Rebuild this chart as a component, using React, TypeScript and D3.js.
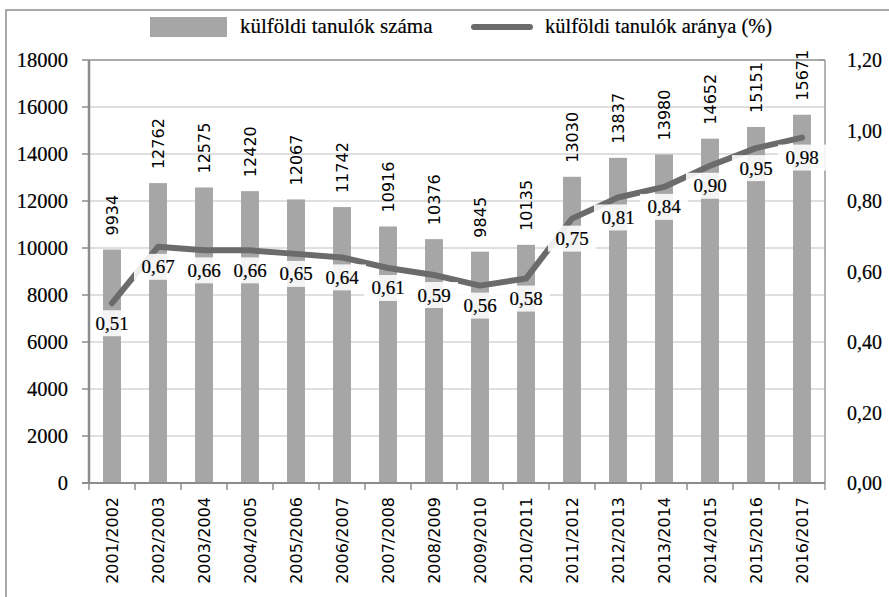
import React from 'react';
import * as d3 from 'd3';

const categories = ['2001/2002','2002/2003','2003/2004','2004/2005','2005/2006','2006/2007','2007/2008','2008/2009','2009/2010','2010/2011','2011/2012','2012/2013','2013/2014','2014/2015','2015/2016','2016/2017'];
const students = [9934,12762,12575,12420,12067,11742,10916,10376,9845,10135,13030,13837,13980,14652,15151,15671];
const ratio = [0.51,0.67,0.66,0.66,0.65,0.64,0.61,0.59,0.56,0.58,0.75,0.81,0.84,0.90,0.95,0.98];
const leftTicks = [0,2000,4000,6000,8000,10000,12000,14000,16000,18000];
const rightTicks = [0,0.2,0.4,0.6,0.8,1.0,1.2];
const legendLabels = ['külföldi tanulók száma','külföldi tanulók aránya (%)'];

const W = 889, H = 597;
const L = 89, R = 825, T = 60, B = 483;
const serif = '"Liberation Serif", "Times New Roman", serif';
const sans = '"DejaVu Sans", Verdana, sans-serif';

export default function App() {
  const x = d3.scaleBand<string>().domain(categories).range([L, R]).padding(0);
  const yL = d3.scaleLinear().domain([0, 18000]).range([B, T]);
  const yR = d3.scaleLinear().domain([0, 1.2]).range([B, T]);
  const bw = x.bandwidth() * 0.39;
  const cx = (c: string) => (x(c) as number) + x.bandwidth() / 2;
  const fmt = (v: number) => d3.format('.2f')(v).replace('.', ',');
  const linePath = d3.line<number>()
    .x((_, i) => cx(categories[i]))
    .y((d) => yR(d))(ratio) as string;

  return (
    <svg width={W} height={H} style={{ position: 'absolute', left: 0, top: 0, background: '#fff' }}>
      <rect x={0} y={0} width={W} height={H} fill="#fff" />
      {/* outer frame */}
      <path d={`M6,${H + 5} V10 H${W + 5}`} fill="none" stroke="#8c8c8c" strokeWidth={1.5} />

      {/* legend */}
      <rect x={150} y={17} width={77} height={20} fill="#a6a6a6" />
      <text x={240} y={33} fontFamily={serif} fontSize={21} fill="#000" stroke="#000" strokeWidth={0.2}>{legendLabels[0]}</text>
      <line x1={474} x2={530} y1={27} y2={27} stroke="#6b6b6b" strokeWidth={6} strokeLinecap="round" />
      <text x={545} y={33} fontFamily={serif} fontSize={20.5} fill="#000" stroke="#000" strokeWidth={0.2}>{legendLabels[1]}</text>

      {/* gridlines */}
      {leftTicks.map((t) => (
        <line key={'g' + t} x1={L} x2={R} y1={yL(t)} y2={yL(t)} stroke="#d4d4d4" strokeWidth={1.5} />
      ))}
      {/* plot border top/right */}
      <line x1={L} x2={R} y1={T} y2={T} stroke="#9a9a9a" strokeWidth={1.5} />
      <line x1={R} x2={R} y1={T} y2={B + 7} stroke="#9a9a9a" strokeWidth={1.5} />
      <line x1={R} x2={R - 6} y1={T} y2={T} stroke="#9a9a9a" strokeWidth={1.5} />

      {/* bars */}
      {categories.map((c, i) => (
        <rect key={'b' + c} x={cx(c) - bw / 2} y={yL(students[i])} width={bw} height={B - yL(students[i])} fill="#a6a6a6" />
      ))}

      {/* bar labels */}
      {categories.map((c, i) => (
        <text key={'bl' + c} transform={`translate(${cx(c)},${yL(students[i]) - 14}) rotate(-90)`}
          textAnchor="start" dominantBaseline="central" fontFamily={sans} fontSize={16} fill="#000">
          {students[i]}
        </text>
      ))}

      {/* line */}
      <path d={linePath} fill="none" stroke="#6b6b6b" strokeWidth={6} strokeLinejoin="round" strokeLinecap="round" />

      {/* line labels */}
      {categories.map((c, i) => {
        const yy = yR(ratio[i]) + 20;
        return (
          <g key={'ll' + c}>
            <rect x={cx(c) - 24} y={yy - 13} width={48} height={26} fill="#fff" fillOpacity={0.88} />
            <text x={cx(c)} y={yy} textAnchor="middle" dominantBaseline="central" fontFamily={serif} fontSize={19} fill="#000" stroke="#000" strokeWidth={0.2}>
              {fmt(ratio[i])}
            </text>
          </g>
        );
      })}

      {/* left axis */}
      <line x1={L} x2={L} y1={T} y2={B} stroke="#8c8c8c" strokeWidth={2.5} />
      {leftTicks.map((t) => (
        <g key={'lt' + t}>
          <line x1={L - 7} x2={L} y1={yL(t)} y2={yL(t)} stroke="#8c8c8c" strokeWidth={1.5} />
          <text x={68} y={yL(t)} textAnchor="end" dominantBaseline="central" fontFamily={serif} fontSize={20.5} fill="#000" stroke="#000" strokeWidth={0.2}>{t}</text>
        </g>
      ))}

      {/* right axis labels */}
      {rightTicks.map((t) => (
        <text key={'rt' + t} x={847} y={yR(t)} dominantBaseline="central" fontFamily={serif} fontSize={20} fill="#000" stroke="#000" strokeWidth={0.2}>{fmt(t)}</text>
      ))}

      {/* x axis */}
      <line x1={L - 7} x2={R} y1={B} y2={B} stroke="#8c8c8c" strokeWidth={2} />
      {categories.map((c) => (
        <line key={'xt' + c} x1={x(c) as number} x2={x(c) as number} y1={B} y2={B + 7} stroke="#8c8c8c" strokeWidth={1.5} />
      ))}
      {categories.map((c) => (
        <text key={'xl' + c} transform={`translate(${cx(c)},497) rotate(-90)`} textAnchor="end" dominantBaseline="central"
          fontFamily={sans} fontSize={16} fill="#000">{c}</text>
      ))}
    </svg>
  );
}
